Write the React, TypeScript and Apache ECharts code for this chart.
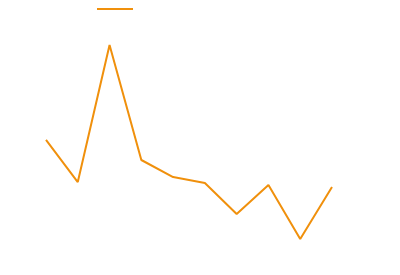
import React, { useEffect, useRef } from "react";
import * as echarts from "echarts";

const categories = ["1", "2", "3", "4", "5", "6", "7", "8", "9", "10"];
const values = [489, 302, 911, 400, 324, 298, 160, 289, 49, 280];
const seriesName = "Series";

export default function App() {
  const ref = useRef<HTMLDivElement>(null);
  useEffect(() => {
    if (!ref.current) return;
    const chart = echarts.init(ref.current, undefined, { renderer: "svg" });
    chart.setOption({
      animation: false,
      legend: {
        left: 92,
        top: 3,
        itemWidth: 36,
        itemHeight: 2,
        icon: "rect",
        formatter: () => "",
        data: [seriesName],
      },
      grid: { left: 46, right: 68, top: 25, bottom: 25 },
      xAxis: {
        type: "category",
        data: categories,
        boundaryGap: false,
        show: false,
      },
      yAxis: { type: "value", min: 0, max: 1000, show: false },
      series: [
        {
          name: seriesName,
          type: "line",
          data: values,
          showSymbol: false,
          symbol: "none",
          lineStyle: { color: "#f0900c", width: 2 },
          itemStyle: { color: "#f0900c" },
        },
      ],
    });
    return () => chart.dispose();
  }, []);
  return <div ref={ref} style={{ width: 400, height: 275, margin: -8 }} />;
}
